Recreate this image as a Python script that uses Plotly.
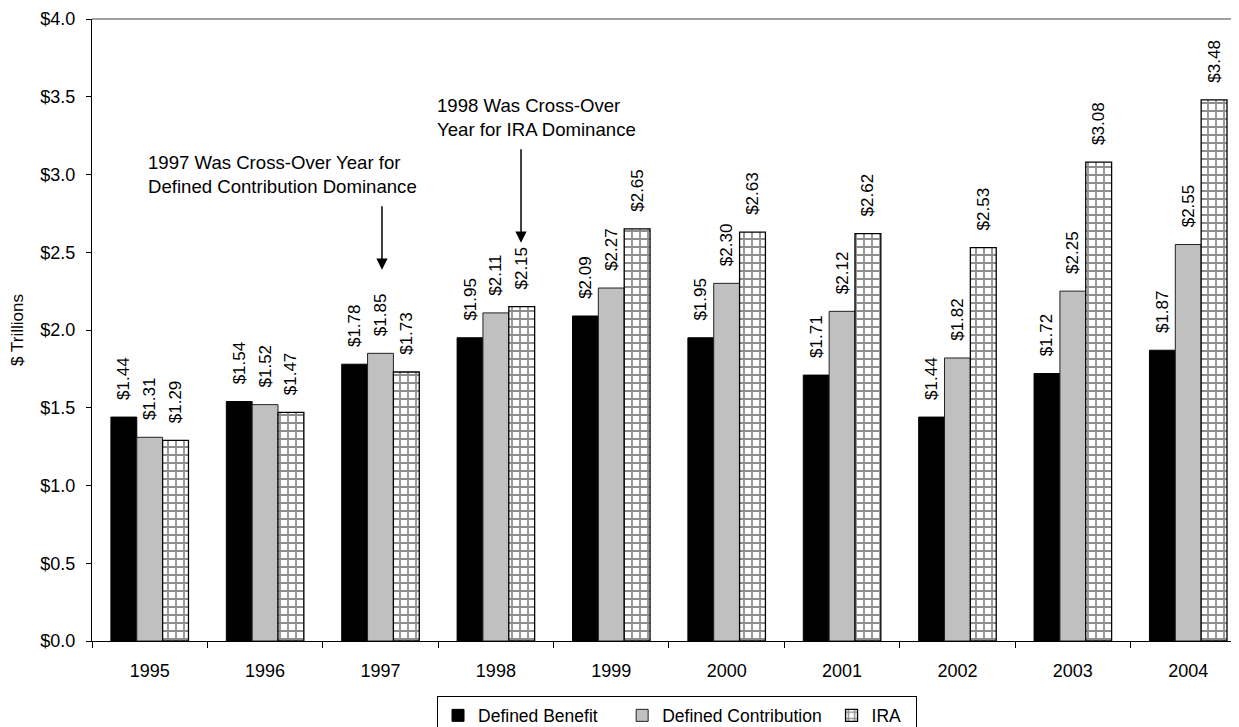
import plotly.graph_objects as go

years = ["1995", "1996", "1997", "1998", "1999", "2000", "2001", "2002", "2003", "2004"]
defined_benefit = [1.44, 1.54, 1.78, 1.95, 2.09, 1.95, 1.71, 1.44, 1.72, 1.87]
defined_contribution = [1.31, 1.52, 1.85, 2.11, 2.27, 2.30, 2.12, 1.82, 2.25, 2.55]
ira = [1.29, 1.47, 1.73, 2.15, 2.65, 2.63, 2.62, 2.53, 3.08, 3.48]

FONT = "Liberation Sans, Arial, sans-serif"
NB = "\u00a0"
label_tpl = NB * 3 + "$%{y:.2f}"

fig = go.Figure()
common = dict(textposition="outside", textangle=-90, texttemplate=label_tpl,
              textfont=dict(family=FONT, size=17, color="black"),
              constraintext="none", cliponaxis=False)
fig.add_trace(go.Bar(name="Defined Benefit" + NB * 4, x=years, y=defined_benefit,
                     marker=dict(color="black", line=dict(color="black", width=1)), **common))
fig.add_trace(go.Bar(name="Defined Contribution" + NB, x=years, y=defined_contribution,
                     marker=dict(color="#c0c0c0", line=dict(color="#222222", width=1)), **common))
fig.add_trace(go.Bar(name="IRA" + NB * 2, x=years, y=ira,
                     marker=dict(color="white", line=dict(color="black", width=1.3),
                                 pattern=dict(shape="+", fgcolor="#1e1e1e", bgcolor="white",
                                              size=8, solidity=0.4)), **common))

fig.update_layout(
    width=1239, height=727,
    margin=dict(l=84, r=8, t=11, b=93.5, autoexpand=False),
    paper_bgcolor="white", plot_bgcolor="white",
    barmode="group", bargap=0.328, bargroupgap=0,
    font=dict(family=FONT, size=18, color="black"),
    showlegend=True,
    legend=dict(orientation="h", x=0.3008, xanchor="left", y=-0.0892, yanchor="top",
                bordercolor="black", borderwidth=1, font=dict(size=17.5),
                traceorder="normal"),
    xaxis=dict(type="category", range=[-0.5, 9.44], showline=True, linecolor="black",
               linewidth=1, ticks="outside", ticklen=6, tickcolor="black",
               tickson="boundaries", showgrid=False, tickfont=dict(size=18),
               ticklabelstandoff=13, automargin=False),
    yaxis=dict(range=[0, 4], dtick=0.5, tickformat=".1f", tickprefix="$",
               showline=True, linecolor="black", linewidth=1, ticks="outside",
               ticklen=5, tickcolor="black", showgrid=False, zeroline=False,
               tickfont=dict(size=18), ticklabelstandoff=7, automargin=False,
               title=dict(text="$ Trillions", font=dict(size=17), standoff=12)),
)

fig.add_shape(type="line", xref="paper", yref="paper", x0=0, x1=1, y0=1, y1=1,
              line=dict(color="#808080", width=1.5))

fig.add_annotation(x=-0.03, y=3.001, xanchor="left", yanchor="middle", showarrow=False,
                   align="left", text="1997 Was Cross-Over Year for<br>Defined Contribution Dominance",
                   font=dict(size=18.6))
fig.add_annotation(x=2.476, y=3.368, xanchor="left", yanchor="middle", showarrow=False,
                   align="left", text="1998 Was Cross-Over<br>Year for IRA Dominance",
                   font=dict(size=18.6))
fig.add_annotation(x=2.013, y=2.388, ax=0, ay=-65, text="", showarrow=True,
                   arrowhead=2, arrowsize=1.5, arrowwidth=1.5, arrowcolor="black")
fig.add_annotation(x=3.218, y=2.561, ax=0, ay=-95, text="", showarrow=True,
                   arrowhead=2, arrowsize=1.5, arrowwidth=1.5, arrowcolor="black")

fig.write_html("out.html")
